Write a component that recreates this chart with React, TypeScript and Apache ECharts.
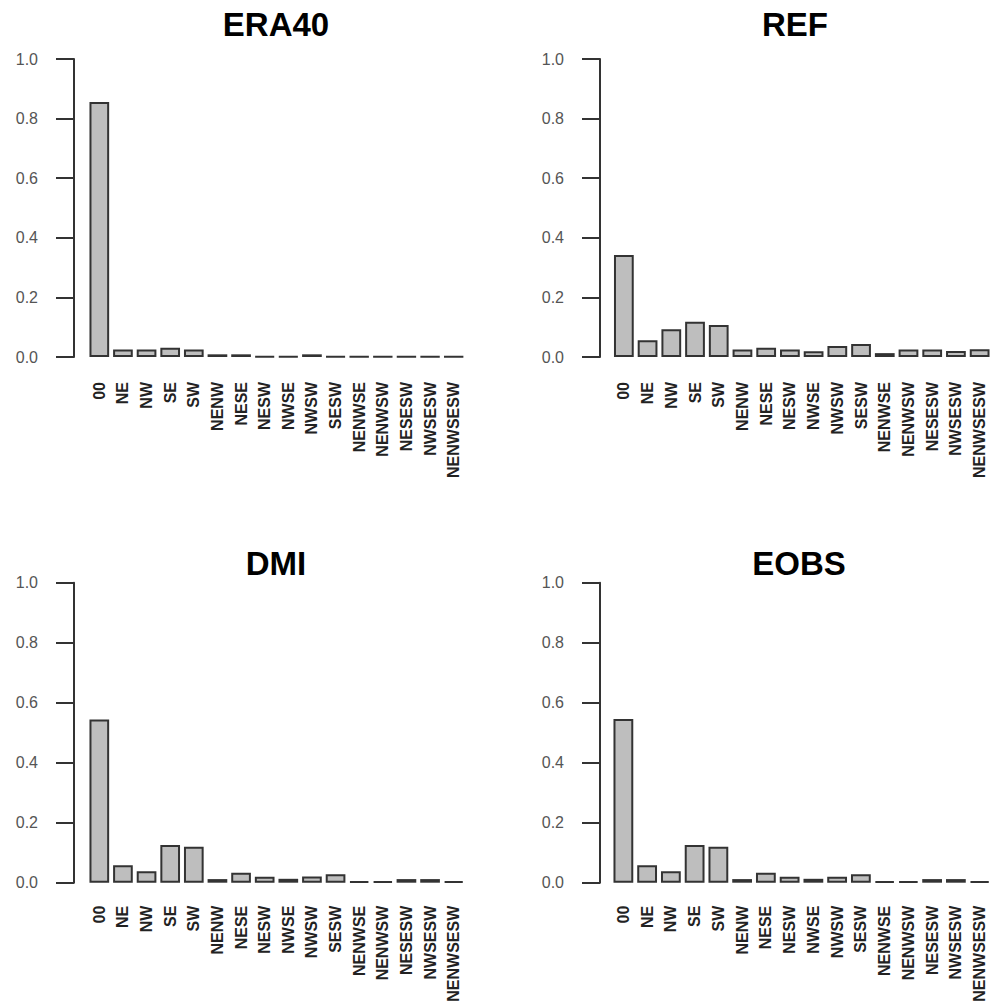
import React, { useEffect, useRef } from "react";
import * as echarts from "echarts";

const categories = [
  "00", "NE", "NW", "SE", "SW", "NENW", "NESE", "NESW", "NWSE", "NWSW",
  "SESW", "NENWSE", "NENWSW", "NESESW", "NWSESW", "NENWSESW",
];

const era40 = [0.856, 0.025, 0.025, 0.031, 0.025, 0.009, 0.009, 0.002, 0.002, 0.009, 0.002, 0.001, 0.001, 0.001, 0.001, 0.001];
const ref = [0.342, 0.056, 0.093, 0.118, 0.107, 0.025, 0.031, 0.025, 0.019, 0.037, 0.044, 0.013, 0.025, 0.025, 0.02, 0.026];
const dmi = [0.544, 0.058, 0.038, 0.126, 0.12, 0.012, 0.033, 0.02, 0.013, 0.021, 0.028, 0.004, 0.004, 0.012, 0.012, 0.005];
const eobs = [0.546, 0.058, 0.038, 0.126, 0.12, 0.012, 0.033, 0.02, 0.013, 0.02, 0.028, 0.004, 0.004, 0.012, 0.012, 0.005];

const yTicks = [0, 0.2, 0.4, 0.6, 0.8, 1.0];

const panels = [
  { name: "ERA40", data: era40 },
  { name: "REF", data: ref },
  { name: "DMI", data: dmi },
  { name: "EOBS", data: eobs },
];

const layout = [
  { left: 87.5, width: 378, top: 59, height: 298, axisX: 74, titleX: 276, titleY: 24, labelMargin: 25 },
  { left: 612, width: 379.5, top: 59, height: 298, axisX: 600, titleX: 795, titleY: 24, labelMargin: 25 },
  { left: 87.5, width: 378, top: 582.7, height: 300, axisX: 74, titleX: 276, titleY: 563, labelMargin: 23 },
  { left: 611.5, width: 380, top: 582.7, height: 300, axisX: 600, titleX: 799, titleY: 563, labelMargin: 23 },
];

export default function App() {
  const ref1 = useRef<HTMLDivElement>(null);
  useEffect(() => {
    if (!ref1.current) return;
    const chart = echarts.init(ref1.current, null, { renderer: "svg" });
    const grids: any[] = [];
    const xAxes: any[] = [];
    const yAxes: any[] = [];
    const series: any[] = [];
    const graphics: any[] = [];
    panels.forEach((p, i) => {
      const L = layout[i];
      grids.push({
        left: L.left,
        top: L.top,
        width: L.width,
        height: L.height,
        containLabel: false,
        outerBoundsMode: "none",
      });
      xAxes.push({
        type: "category",
        gridIndex: i,
        data: categories,
        axisLine: { show: false },
        axisTick: { show: false },
        axisLabel: {
          interval: 0,
          rotate: 90,
          margin: L.labelMargin,
          fontFamily: "Liberation Sans",
          fontWeight: "bold",
          fontSize: 16,
          color: "#222",
        },
      });
      yAxes.push({
        type: "value",
        gridIndex: i,
        min: 0,
        max: 1,
        interval: 0.2,
        offset: L.left - L.axisX,
        axisLine: { show: true, lineStyle: { color: "#333", width: 2 } },
        axisTick: { show: true, length: 18, lineStyle: { color: "#333", width: 2 } },
        splitLine: { show: false },
        axisLabel: {
          margin: 36,
          fontFamily: "Liberation Sans",
          fontSize: 16,
          color: "#555",
          formatter: (v: number) => v.toFixed(1),
          customValues: yTicks,
        },
      });
      series.push({
        type: "bar",
        xAxisIndex: i,
        yAxisIndex: i,
        data: p.data,
        barCategoryGap: "16.67%",
        itemStyle: { color: "#bebebe", borderColor: "#333", borderWidth: 2 },
      });
      graphics.push({
        type: "text",
        x: L.titleX,
        y: L.titleY,
        style: {
          text: p.name,
          textAlign: "center",
          textVerticalAlign: "middle",
          font: "bold 33px 'Liberation Sans'",
          fill: "#000",
        },
      });
    });
    chart.setOption({
      animation: false,
      backgroundColor: "#fff",
      grid: grids,
      xAxis: xAxes,
      yAxis: yAxes,
      series,
      graphic: graphics,
    });
    return () => chart.dispose();
  }, []);
  return (
    <div
      ref={ref1}
      style={{ position: "fixed", left: 0, top: 0, width: 995, height: 1005, background: "#fff" }}
    />
  );
}
